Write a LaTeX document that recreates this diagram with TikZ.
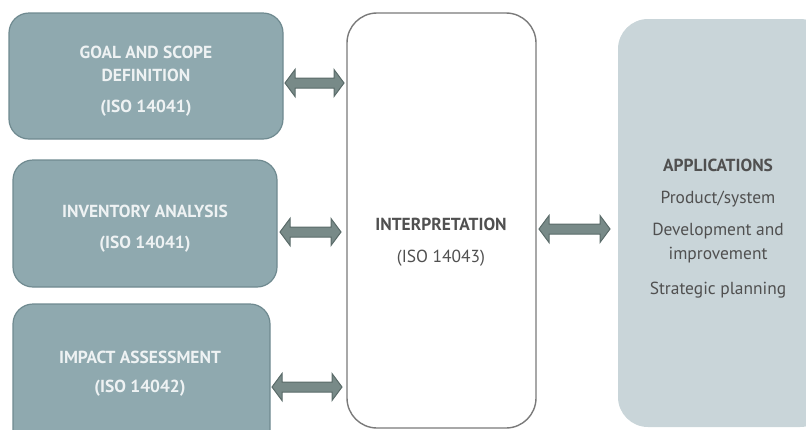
\documentclass[tikz,border=0pt]{standalone}
\usepackage{fontspec}
\setmainfont{PT Sans}
\usetikzlibrary{calc}
\definecolor{boxfill}{HTML}{8FA9AF}
\definecolor{boxline}{HTML}{6F8A90}
\definecolor{arrfill}{HTML}{788A88}
\definecolor{arrline}{HTML}{5A6B69}
\definecolor{appfill}{HTML}{C9D5D9}
\definecolor{intline}{HTML}{7A7A7A}
\definecolor{boxtext}{HTML}{EEF2F3}
\definecolor{darktext}{HTML}{505050}
\tikzset{
  phase/.style={draw=boxline, line width=1.2bp, fill=boxfill, rounded corners=20bp},
  interp/.style={draw=intline, line width=1.4bp, fill=white, rounded corners=30bp},
  appbox/.style={fill=appfill, rounded corners=30bp},
  btext/.style={text=boxtext, font=\fontsize{17.5}{20}\selectfont\bfseries, align=center},
  itext/.style={text=darktext, font=\fontsize{17.5}{20}\selectfont, align=center},
  ibold/.style={text=darktext, font=\fontsize{17.5}{20}\selectfont\bfseries, align=center},
  blockarr/.style={draw=arrline, fill=arrfill, line width=1bp, line join=miter,
    to path={let \p1=(\tikztostart), \p2=(\tikztotarget) in
      (\x1,\y1) -- (\x1+10bp,\y1+13.5bp) -- (\x1+10bp,\y1+5bp) -- (\x2-10bp,\y2+5bp)
      -- (\x2-10bp,\y2+13.5bp) -- (\x2,\y2) -- (\x2-10bp,\y2-13.5bp) -- (\x2-10bp,\y2-5bp)
      -- (\x1+10bp,\y1-5bp) -- (\x1+10bp,\y1-13.5bp) -- cycle}}
}
\begin{document}
\begin{tikzpicture}[x=1bp,y=-1bp]
\useasboundingbox (0,0) rectangle (806,429);
\clip (0,0) rectangle (806,429);
% boxes
\draw[phase] (9,13) rectangle (283,139);
\draw[phase] (13,160) rectangle (277,287);
\draw[phase] (13,304) rectangle (270,450);
\draw[interp] (347,13) rectangle (536,428);
\fill[appbox] (618,19) rectangle (830,427);
% texts
\node[btext] (goal1) at (146,52) {GOAL AND SCOPE};
\node[btext] (goal2) at (146,75) {DEFINITION};
\node[btext] (goal3) at (146,108) {(ISO 14041)};
\node[btext] (inv1) at (145,211) {INVENTORY ANALYSIS};
\node[btext] (inv2) at (145,244) {(ISO 14041)};
\node[btext] (imp1) at (140,357) {IMPACT ASSESSMENT};
\node[btext] (imp2) at (140,388) {(ISO 14042)};
\node[ibold] (int1) at (441,224) {INTERPRETATION};
\node[itext] (int2) at (441,258) {(ISO 14043)};
\node[ibold] (app1) at (718,165) {APPLICATIONS};
\node[itext] (app2) at (718,199) {Product/system};
\node[itext] (app3) at (718,231) {Development and};
\node[itext] (app4) at (718,255) {improvement};
\node[itext] (app5) at (718,290) {Strategic planning};
% arrows
\coordinate (a1l) at (285,83); \coordinate (a1r) at (344,83);
\coordinate (a2l) at (280,232); \coordinate (a2r) at (341,232);
\coordinate (a3l) at (272,387); \coordinate (a3r) at (342,387);
\coordinate (a4l) at (539,229); \coordinate (a4r) at (610,229);
\draw[blockarr] (a1l) to (a1r);
\draw[blockarr] (a2l) to (a2r);
\draw[blockarr] (a3l) to (a3r);
\draw[blockarr] (a4l) to (a4r);
\end{tikzpicture}
\end{document}
